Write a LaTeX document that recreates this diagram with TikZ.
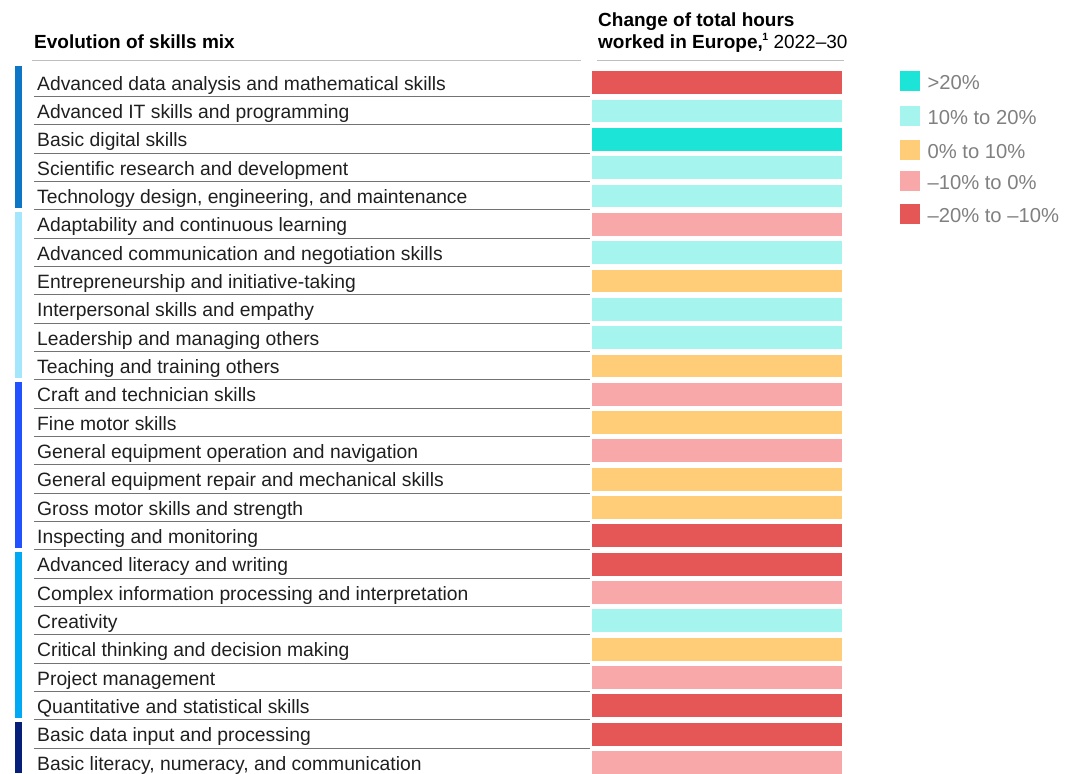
\documentclass[tikz,border=0pt]{standalone}
\usepackage{fontspec}
\setmainfont{Liberation Sans}
\usepackage{xcolor}
\usepackage{tikz}
\usetikzlibrary{positioning}
\definecolor{gone}{HTML}{0E77C5}
\definecolor{gtwo}{HTML}{A4E6FB}
\definecolor{gthree}{HTML}{2251FF}
\definecolor{gfour}{HTML}{00A9F4}
\definecolor{gfive}{HTML}{061F79}
\definecolor{up20}{HTML}{1CE5D7}
\definecolor{up10}{HTML}{A5F4EE}
\definecolor{up0}{HTML}{FFCD78}
\definecolor{dn0}{HTML}{F8A8A8}
\definecolor{dn10}{HTML}{E55757}
\tikzstyle{skill}=[anchor=base west, inner sep=0pt, text=black!88,
  font=\fontsize{19.3}{22}\selectfont]
\tikzstyle{hbar}=[anchor=north west, inner sep=0pt, minimum width=250pt,
  minimum height=22.7pt]
\tikzstyle{rowline}=[draw, color=black!55, line width=1pt]
\tikzstyle{headline}=[draw, color=black!25, line width=1.8pt]
\tikzstyle{head}=[anchor=base west, inner sep=0pt, text=black,
  font=\fontsize{19}{22}\selectfont]
\tikzstyle{legkey}=[anchor=north west, inner sep=0pt, minimum size=20pt]
\tikzstyle{keytext}=[anchor=base west, inner sep=0pt, text=black!50,
  font=\fontsize{20.2}{22}\selectfont]
\newcommand{\skillrow}[3]{%
  \path (37,{90.1+(#1-1)*28.33}) node (s#1) [skill] {#2};
  \path (592,{71+(#1-1)*28.33}) node (b#1) [hbar, fill=#3] {};}
\newcommand{\group}[3]{%
  \path [fill=#3] (15,#1) rectangle (21.7,#2);}
\newcommand{\legentry}[4]{%
  \path (900,#2) node (k#1) [legkey, fill=#3] {};
  \path (k#1.south east)+(7,-1.5) node (t#1) [keytext] {#4};}
\newcommand{\fnmark}[1]{\raisebox{0.42em}{\fontsize{10.5}{11}\selectfont\bfseries #1}}

\begin{document}
\begin{tikzpicture}[x=1pt,y=-1pt]
\useasboundingbox (0,0) rectangle (1067,773);

  % Headers
\path (34,48.3) node (h1) [head] {\bfseries Evolution of skills mix};
\path (598,26.7) node (h2) [head] {\bfseries Change of total hours};
\path (h2.base west)+(0,21.6) node (h3) [head]
  {\bfseries worked in Europe,\kern-0.5pt\fnmark{1} \mdseries 2022--30};
\path [headline] (32,60.5) -- (580.5,60.5);
\path [headline] (597,60.5) -- (844,60.5);

  % Skill groups
\group{66}{208.4}{gone}
\group{211.5}{378.4}{gtwo}
\group{381.5}{548.4}{gthree}
\group{551.7}{718.4}{gfour}
\group{721.7}{773}{gfive}

  % Row lines
\foreach \i in {1,...,24}
  \path [rowline] (34,{96.43+(\i-1)*28.33}) -- (590,{96.43+(\i-1)*28.33});

  % Rows
\skillrow{1}{Advanced data analysis and mathematical skills}{dn10}
\skillrow{2}{Advanced IT skills and programming}{up10}
\skillrow{3}{Basic digital skills}{up20}
\skillrow{4}{Scientific research and development}{up10}
\skillrow{5}{Technology design, engineering, and maintenance}{up10}
\skillrow{6}{Adaptability and continuous learning}{dn0}
\skillrow{7}{Advanced communication and negotiation skills}{up10}
\skillrow{8}{Entrepreneurship and initiative-taking}{up0}
\skillrow{9}{Interpersonal skills and empathy}{up10}
\skillrow{10}{Leadership and managing others}{up10}
\skillrow{11}{Teaching and training others}{up0}
\skillrow{12}{Craft and technician skills}{dn0}
\skillrow{13}{Fine motor skills}{up0}
\skillrow{14}{General equipment operation and navigation}{dn0}
\skillrow{15}{General equipment repair and mechanical skills}{up0}
\skillrow{16}{Gross motor skills and strength}{up0}
\skillrow{17}{Inspecting and monitoring}{dn10}
\skillrow{18}{Advanced literacy and writing}{dn10}
\skillrow{19}{Complex information processing and interpretation}{dn0}
\skillrow{20}{Creativity}{up10}
\skillrow{21}{Critical thinking and decision making}{up0}
\skillrow{22}{Project management}{dn0}
\skillrow{23}{Quantitative and statistical skills}{dn10}
\skillrow{24}{Basic data input and processing}{dn10}
\skillrow{25}{Basic literacy, numeracy, and communication}{dn0}

  % Legend
\legentry{1}{71}{up20}{>20\%}
\legentry{2}{106}{up10}{10\% to 20\%}
\legentry{3}{139.3}{up0}{0\% to 10\%}
\legentry{4}{171}{dn0}{--10\% to 0\%}
\legentry{5}{204}{dn10}{--20\% to --10\%}
\end{tikzpicture}
\end{document}
